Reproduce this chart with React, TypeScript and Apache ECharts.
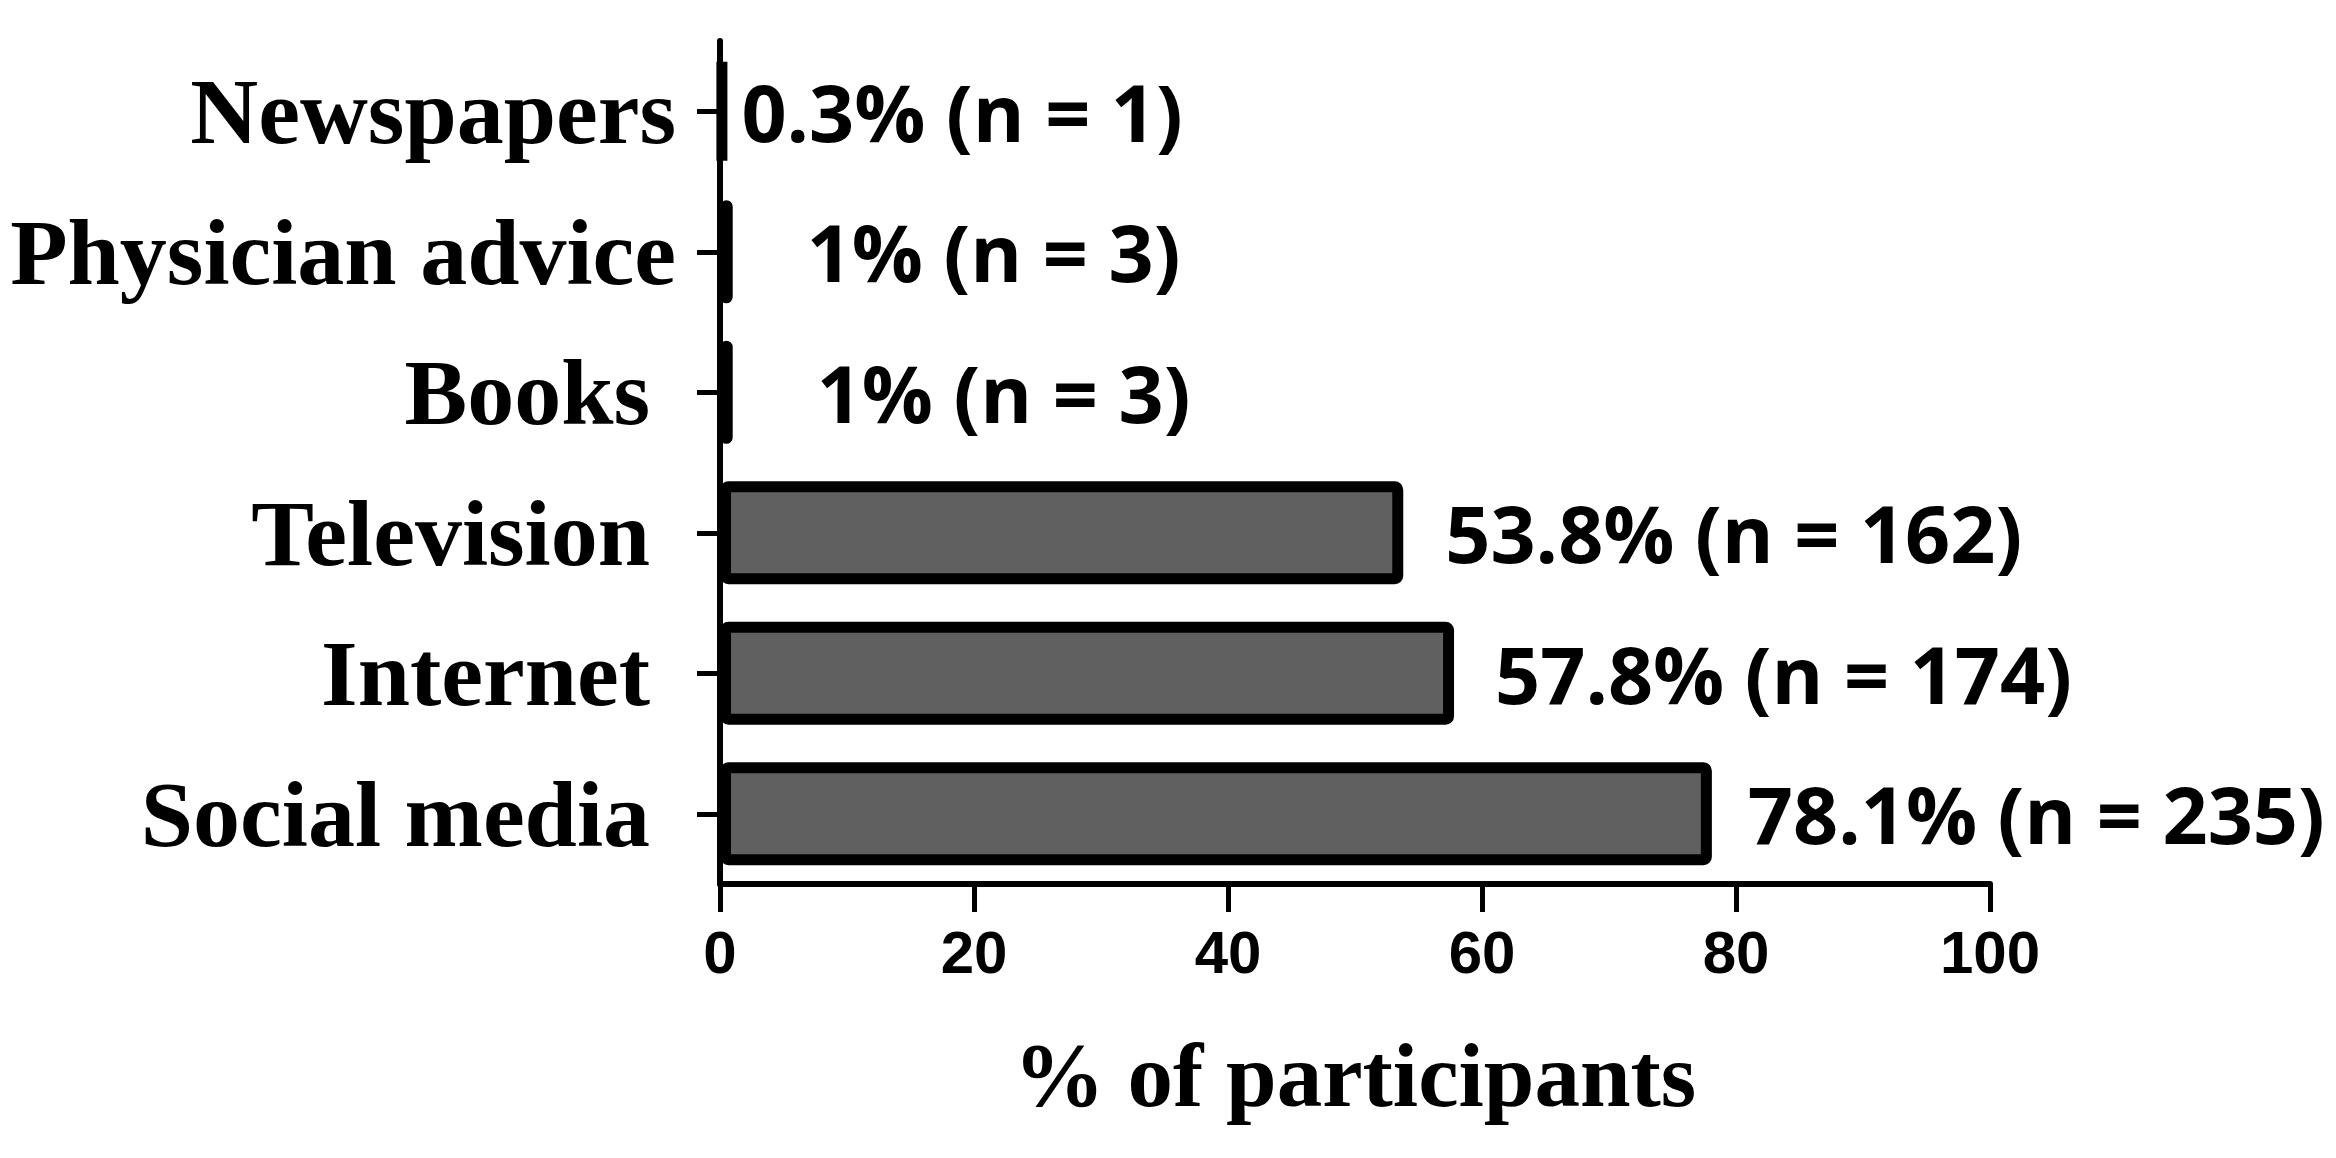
import React, { useEffect, useRef } from "react";
import * as echarts from "echarts";

// Categories listed bottom to top
const categories = ["Social media", "Internet", "Television", "Books", "Physician advice", "Newspapers"];
const percentages = [78.1, 57.8, 53.8, 1, 1, 0.3];
const counts = [235, 174, 162, 3, 3, 1];
const percentLabels = ["78.1", "57.8", "53.8", "1", "1", "0.3"];
const xTickMin = 0;
const xTickMax = 100;
const xTickStep = 20;
const axisTitle = "% of participants";

// label placement (style, kept apart from data)
const labelGaps = [36, 41, 42, 84, 74, 14];
const indentedCategories = ["Social media", "Internet", "Television", "Books"];

export default function App() {
  const ref = useRef<HTMLDivElement>(null);

  useEffect(() => {
    document.body.style.margin = "0";
    if (!ref.current) return;
    const chart = echarts.init(ref.current, undefined, { renderer: "svg" });

    const catFont = {
      fontFamily: "'Liberation Serif', 'Times New Roman', serif",
      fontWeight: "bold" as const,
      fontSize: 94,
      color: "#000",
    };

    const data = percentages.map((v, i) => ({
      value: v,
      label: { distance: labelGaps[i] },
    }));

    chart.setOption({
      animation: false,
      backgroundColor: "#fff",
      grid: { left: 720, right: 346, top: 41, bottom: 274, containLabel: false },
      xAxis: {
        type: "value",
        min: xTickMin,
        max: xTickMax,
        interval: xTickStep,
        name: axisTitle,
        nameLocation: "middle",
        nameGap: 146,
        nameTextStyle: {
          fontFamily: "'Liberation Serif', 'Times New Roman', serif",
          fontWeight: "bold",
          fontSize: 91,
          color: "#000",
        },
        axisLine: { show: true, lineStyle: { color: "#000", width: 6 } },
        axisTick: { show: true, length: 28, lineStyle: { color: "#000", width: 5 } },
        splitLine: { show: false },
        axisLabel: {
          margin: 38,
          fontFamily: "'Liberation Sans', Arial, sans-serif",
          fontWeight: "bold",
          fontSize: 60,
          color: "#000",
        },
      },
      yAxis: {
        type: "category",
        data: categories,
        axisLine: { show: true, lineStyle: { color: "#000", width: 6 } },
        axisTick: { show: true, length: 23, alignWithLabel: true, lineStyle: { color: "#000", width: 5 } },
        splitLine: { show: false },
        axisLabel: {
          margin: 44,
          ...catFont,
          formatter: (v: string) => (indentedCategories.includes(v) ? `{p|${v}}` : `{q|${v}}`),
          rich: {
            p: { ...catFont, padding: [0, 26, 0, 0] },
            q: { ...catFont },
          },
        },
      },
      series: [
        {
          type: "bar",
          data,
          barWidth: 103,
          itemStyle: {
            color: "#606060",
            borderColor: "#000",
            borderWidth: 11,
            borderRadius: 3,
          },
          label: {
            show: true,
            position: "right",
            fontFamily: "'Open Sans', 'Noto Sans', sans-serif",
            fontWeight: "bold",
            fontSize: 79,
            color: "#000",
            formatter: (p: any) => `${percentLabels[p.dataIndex]}% (n = ${counts[p.dataIndex]})`,
          },
        },
      ],
    });

    return () => chart.dispose();
  }, []);

  return <div ref={ref} style={{ width: 2336, height: 1158 }} />;
}
